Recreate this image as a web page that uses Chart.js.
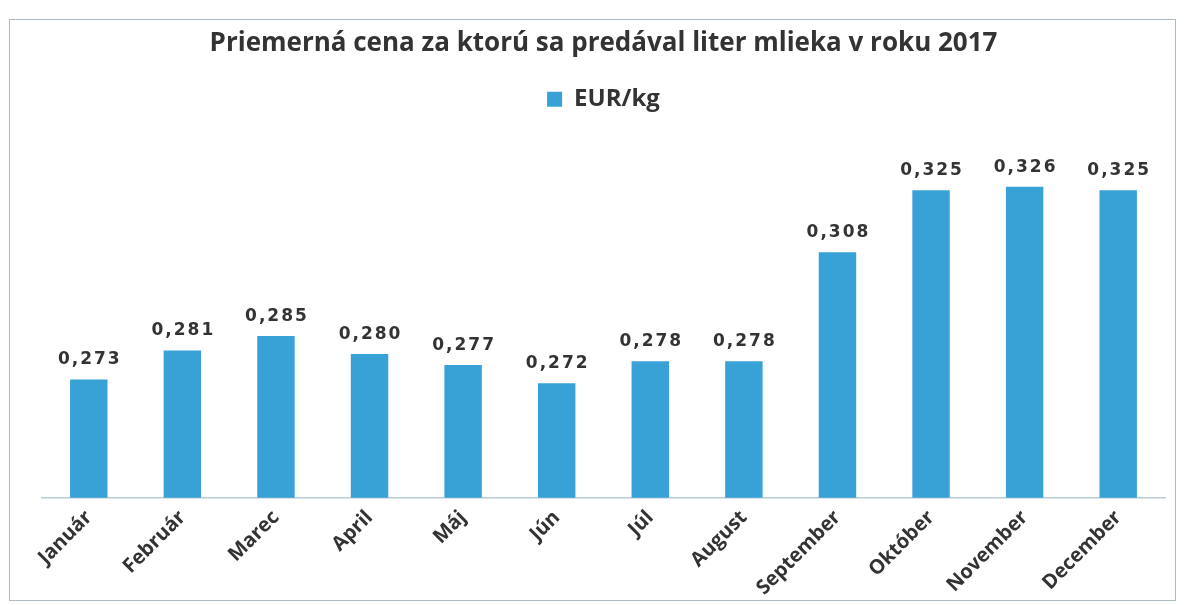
<!DOCTYPE html>
<html lang="sk">
<head>
  <meta charset="UTF-8" />
  <title>Priemerná cena mlieka 2017</title>
  <script src="https://cdn.jsdelivr.net/npm/chart.js"></script>
  <style>
    html, body { margin: 0; background: #fff; }
    .frame {
      position: absolute; left: 9px; top: 19px; width: 1167px; height: 582px;
      border: 1.5px solid #a9bcc6; box-sizing: border-box;
    }
    .frame canvas { display: block; }
  </style>
</head>
<body>
<div class="frame">
  <canvas id="milkChart"></canvas>
</div>

<script>
const months = ['Január', 'Február', 'Marec', 'April', 'Máj', 'Jún', 'Júl', 'August', 'September', 'Október', 'November', 'December'];
const prices = [0.273, 0.281, 0.285, 0.280, 0.277, 0.272, 0.278, 0.278, 0.308, 0.325, 0.326, 0.325];

// hodnoty nad stĺpcami, s desatinnou čiarkou
const barLabels = {
  id: 'barLabels',
  afterDatasetsDraw(chart) {
    const ctx = chart.ctx;
    ctx.save();
    ctx.font = 'bold 17px "DejaVu Sans"';
    ctx.letterSpacing = '2px';
    ctx.fillStyle = '#333';
    ctx.textAlign = 'center';
    ctx.textBaseline = 'bottom';
    chart.getDatasetMeta(0).data.forEach((bar, i) => {
      const txt = prices[i].toFixed(3).replace('.', ',');
      ctx.fillText(txt, bar.x + 1, bar.y - 11);
    });
    ctx.restore();
  }
};

new Chart(document.getElementById('milkChart'), {
  type: 'bar',
  data: {
    labels: months,
    datasets: [{
      label: 'EUR/kg',
      data: prices,
      backgroundColor: '#38a2d7',
      barPercentage: 0.8,
      categoryPercentage: 0.5
    }]
  },
  options: {
    responsive: true,
    maintainAspectRatio: false,
    animation: false,
    layout: { padding: { left: 32, right: 10, top: 0, bottom: 0 } },
    plugins: {
      title: {
        display: true,
        text: 'Priemerná cena za ktorú sa predával liter mlieka v roku 2017',
        color: '#333',
        font: { family: 'Open Sans', size: 26, weight: 'bold' },
        padding: { top: 8, bottom: 18 }
      },
      legend: {
        position: 'top',
        labels: {
          color: '#333',
          font: { family: 'Open Sans', size: 24, weight: 'bold' },
          boxWidth: 15, boxHeight: 15, padding: 10
        }
      },
      tooltip: { enabled: false }
    },
    scales: {
      x: {
        grid: { display: false },
        border: { color: '#b9ccd5', width: 1.5 },
        ticks: {
          color: '#333',
          font: { family: 'Open Sans', size: 20, weight: 'bold' },
          maxRotation: 45, minRotation: 45, padding: 0
        }
      },
      y: {
        display: false,
        min: 0.2405,
        max: 0.344
      }
    }
  },
  plugins: [barLabels]
});
</script>
</body>
</html>
